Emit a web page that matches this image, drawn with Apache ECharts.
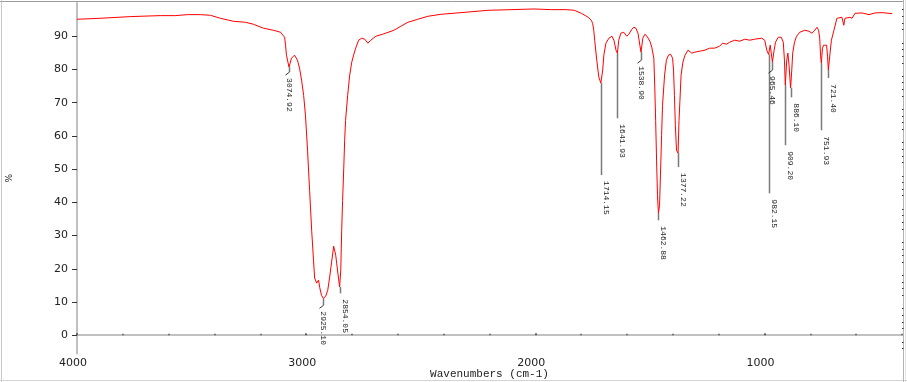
<!DOCTYPE html>
<html><head><meta charset="utf-8">
<script src="https://cdn.jsdelivr.net/npm/echarts@6/dist/echarts.min.js"></script>
<style>html,body{margin:0;padding:0;background:#fff}#c{width:907px;height:382px}</style>
</head><body><div id="c"></div>
<script>
// ---- data ----
const wavenumbers = [4000,3899,3768,3637,3571,3519,3462,3418,3374,3318,3265,3230,3186,3143,3112,3094,3090,3086,3074.92,3064,3051,3038,3029,3020,3011,3003,2994,2985,2976,2968,2963,2954,2946,2941,2933,2925.10,2915,2906,2898,2889,2880,2871,2867,2863,2854.05,2849,2845,2841,2836,2832,2828,2819,2810,2801,2793,2784,2771,2758,2744,2731,2718,2696,2666,2617,2587,2556,2513,2469,2412,2324,2206,2106,2005,1931,1865,1830,1799,1769,1756,1750,1745,1741,1732,1723,1714.15,1706,1701,1692,1679,1666,1657,1648,1641.93,1636,1627,1614,1601,1592,1579,1570,1561,1552,1544,1538.90,1531,1522,1513,1500,1492,1483,1479,1475,1471,1467,1462.88,1458,1454,1449,1445,1436,1428,1419,1410,1401,1397,1393,1389,1384,1377.22,1373,1369,1364,1356,1347,1334,1326,1317,1304,1282,1260,1240,1218,1196,1183,1165,1152,1130,1108,1086,1064,1043,1012,999,990,982.15,975,965.46,958,952,940,927,918,913,909.20,903,898,893,886.10,881,877,869,860,846,824,806,793,784,771,764,759,755.5,751.93,747,742,729,725,721.40,714,708,697,684,662,654,649,627,618,605,574,544,518,487,443];
const transmittance = [95.1,95.4,95.9,96.2,96.2,96.5,96.5,96.3,95.4,94.5,94.2,93.6,92.4,91.8,91.2,89.7,87.3,84.3,80.7,83.4,84.3,82.8,80.4,76.8,72.2,66.2,55.7,43.6,31.6,22.6,17.2,15.7,16.6,14.4,12.0,11.1,11.7,13.5,17.2,22.0,26.8,24.1,21.7,21.1,14.5,19.6,31.6,40.6,50.3,58.7,64.7,72.2,78.3,82.2,84.3,86.4,88.8,89.4,89.1,87.9,88.8,90.0,90.6,91.8,93.0,94.2,95.1,96.0,96.6,97.1,97.8,98.0,98.2,98.0,98.0,97.8,96.9,95.7,94.8,93.9,91.8,88.8,82.8,77.7,75.9,79.8,84.3,87.9,89.4,90.0,88.8,85.8,84.9,88.8,90.9,91.2,90.0,90.6,92.1,92.7,92.4,90.9,87.3,85.2,89.4,90.6,90.0,88.5,86.7,83.4,75.3,64.7,52.7,42.1,36.7,39.1,48.2,60.2,69.2,78.3,82.8,84.3,84.6,83.4,79.8,72.2,63.2,55.7,54.8,64.7,70.7,78.3,82.2,84.3,85.8,86.1,84.9,85.2,85.5,85.8,86.4,86.4,87.0,87.9,87.6,88.2,88.8,88.5,89.1,88.8,89.1,89.4,88.8,85.8,84.5,87.3,82.2,85.8,88.2,89.7,89.7,88.2,82.8,75.3,82.8,84.9,81.3,74.4,79.8,84.9,88.2,90.0,91.2,91.8,91.5,90.9,91.5,92.7,91.8,89.4,84.3,81.9,86.4,87.3,87.3,84.0,79.8,84.9,88.8,91.8,95.4,95.7,93.3,95.4,95.7,95.4,96.9,97.0,96.5,97.0,97.1,96.8];
const peakWavenumbers = [3074.92,2925.10,2854.05,1714.15,1641.93,1538.90,1462.88,1377.22,982.15,965.46,909.20,886.10,751.93,721.40];
const peakLabels = ["3074.92","2925.10","2854.05","1714.15","1641.93","1538.90","1462.88","1377.22","982.15","965.46","909.20","886.10","751.93","721.40"];
const leaderEndT = [79.2,9.0,12.6,48.2,65.3,82.8,34.6,50.6,42.7,79.8,57.2,71.6,61.7,77.4];
const xTickValues = [4000,3000,2000,1000];
const xMinorValues = [3800,3600,3400,3200,2800,2600,2400,2200,1800,1600,1400,1200,800,600,400];
const yTickValues = [0,10,20,30,40,50,60,70,80,90];
const yMinorValues = [-4,-2,2,4,6,8,12,14,16,18,22,24,26,28,32,34,36,38,42,44,46,48,52,54,56,58,62,64,66,68,72,74,76,78,82,84,86,88,92,94,96,98];

// ---- chart ----
const slantLeaders = new Set(["3074.92","2925.10","1538.90","965.46"]);
const spectrum = wavenumbers.map((w, i) => [w, transmittance[i]]);
const peakT = peakWavenumbers.map(w => transmittance[wavenumbers.indexOf(w)]);
const peakData = peakWavenumbers.map((w, i) => [w, peakT[i], leaderEndT[i], i]);
const plain = v => String(v);

const chart = echarts.init(document.getElementById('c'), null, {renderer: 'canvas'});
chart.setOption({
  animation: false,
  backgroundColor: '#ffffff',
  grid: {left: 77, right: 5, top: 3, bottom: 28.5, containLabel: false, outerBoundsMode: 'none'},
  xAxis: [{
    type: 'value', min: 400, max: 4000, inverse: true, position: 'bottom',
    axisLine: {show: true, lineStyle: {color: '#c0c0c0', width: 2}},
    axisTick: {show: true, customValues: xTickValues, inside: true, length: 2, lineStyle: {color: '#404040', width: 1.5}},
    axisLabel: {customValues: xTickValues, formatter: plain, fontSize: 11, color: '#222', margin: 4, fontFamily: 'DejaVu Sans', padding: [0, 8, 0, 0]},
    splitLine: {show: false},
    name: 'Wavenumbers (cm-1)', nameLocation: 'middle', nameGap: 15, nameMoveOverlap: false,
    nameTextStyle: {fontFamily: 'Liberation Mono', fontSize: 11, color: '#222'}
  }, {
    type: 'value', min: 400, max: 4000, inverse: true, position: 'bottom',
    axisLine: {show: false},
    axisTick: {show: true, customValues: xMinorValues, inside: true, length: 1.5, lineStyle: {color: '#555', width: 1.5}},
    axisLabel: {show: false}, splitLine: {show: false}
  }],
  yAxis: [{
    type: 'value', min: -5.5, max: 100,
    axisLine: {show: true, lineStyle: {color: '#c0c0c0', width: 2}},
    axisTick: {show: true, customValues: yTickValues, length: 5, lineStyle: {color: '#333', width: 1}},
    axisLabel: {customValues: yTickValues, formatter: plain, fontSize: 11, color: '#222', margin: 9, fontFamily: 'DejaVu Sans'},
    splitLine: {show: false},
    name: '%', nameLocation: 'middle', nameGap: 63, nameMoveOverlap: false,
    nameTextStyle: {fontSize: 9, color: '#222', fontFamily: 'DejaVu Sans'}
  }, {
    type: 'value', min: -5.5, max: 100,
    axisLine: {show: false},
    axisTick: {show: true, customValues: yMinorValues, length: 1.5, lineStyle: {color: '#333', width: 1}},
    axisLabel: {show: false}, splitLine: {show: false}
  }],
  graphic: [
    {type: 'line', shape: {x1: 0, y1: 1.5, x2: 903, y2: 1.5}, style: {stroke: '#9a9a9a', lineWidth: 1}},
    {type: 'line', shape: {x1: 1.5, y1: 0, x2: 1.5, y2: 382}, style: {stroke: '#c8c8c8', lineWidth: 1}},
    {type: 'line', shape: {x1: 0, y1: 380.5, x2: 907, y2: 380.5}, style: {stroke: '#d4d4d4', lineWidth: 1}},
    {type: 'line', shape: {x1: 903.5, y1: 0, x2: 903.5, y2: 382}, style: {stroke: '#b4b4b4', lineWidth: 1}},
    {type: 'line', shape: {x1: 905.5, y1: 0, x2: 905.5, y2: 382}, style: {stroke: '#e4e4e4', lineWidth: 1}}
  ],
  series: [{
    type: 'custom', xAxisIndex: 0, yAxisIndex: 0, z: 2,
    encode: {x: 0, y: 1},
    data: peakData,
    renderItem: function (params, api) {
      const w = api.value(0), t0 = api.value(1), t1 = api.value(2), idx = api.value(3);
      const txt = peakLabels[idx];
      const p0 = api.coord([w, t0]);
      const p1 = api.coord([w, t1]);
      const x = Math.round(p0[0]) + 0.5;
      const slant = slantLeaders.has(txt);
      const children = [{
        type: 'line', shape: {x1: x, y1: p0[1], x2: x, y2: p1[1]},
        style: {stroke: '#7a7a7a', lineWidth: 1.5}
      }];
      let ax = x + 0.5;
      if (slant) {
        children.push({type: 'line', shape: {x1: x, y1: p1[1], x2: x - 4, y2: p1[1] + 3},
          style: {stroke: '#333', lineWidth: 1}});
        ax = x - 4;
      }
      children.push({
        type: 'text', x: ax, y: p1[1] + 6, rotation: -Math.PI / 2,
        style: {text: txt, fill: '#222', font: '8px "Liberation Mono", "DejaVu Sans Mono", monospace',
          align: 'left', verticalAlign: 'bottom'}
      });
      return {type: 'group', children: children};
    }
  }, {
    type: 'line', xAxisIndex: 0, yAxisIndex: 0, z: 3,
    data: spectrum, showSymbol: false, symbol: 'none',
    lineStyle: {color: '#ff0000', width: 1},
    itemStyle: {color: '#ff0000'}
  }]
});
</script>
</body></html>
